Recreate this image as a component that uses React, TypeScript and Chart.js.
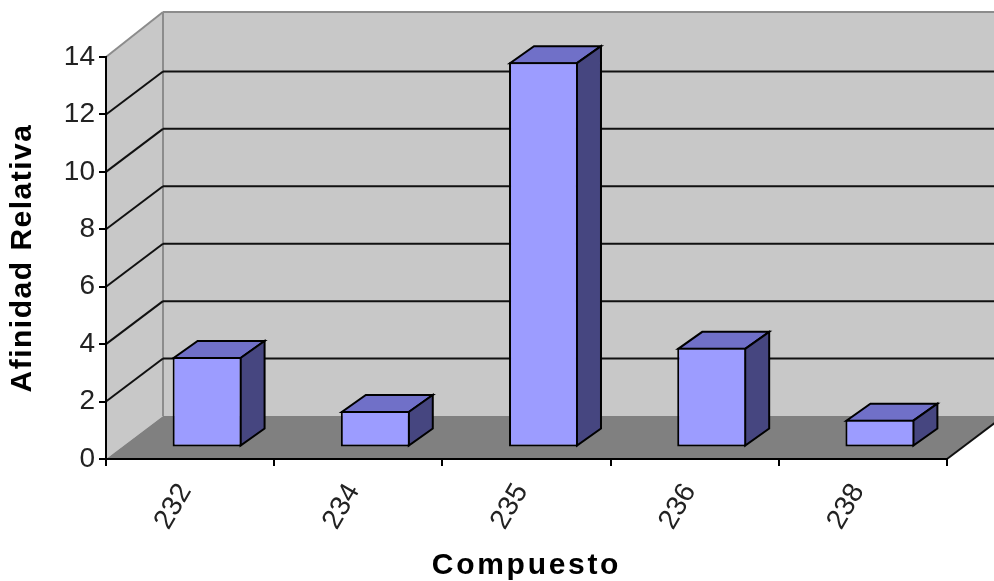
import React, { useEffect, useRef } from "react";
import { Chart, registerables } from "chart.js";

Chart.register(...registerables);

const categories = ["232", "234", "235", "236", "238"];
const afinidad = [3.15, 1.27, 13.42, 3.47, 0.97];
const yTicks = [0, 2, 4, 6, 8, 10, 12, 14];
const yTitle = "Afinidad Relativa";
const xTitle = "Compuesto";

const WALL_DX = 57;
const WALL_DY = 43;
const WALL_TOP_DY = 45;
const BAR_SHIFT_X = 17;
const BAR_SHIFT_Y = 11.5;
const BAR_DX = 24;
const BAR_DY = 17;

function poly(ctx: CanvasRenderingContext2D, pts: number[][], fill?: string, stroke?: string, lw = 2) {
  ctx.beginPath();
  pts.forEach((p, i) => (i ? ctx.lineTo(p[0], p[1]) : ctx.moveTo(p[0], p[1])));
  ctx.closePath();
  if (fill) {
    ctx.fillStyle = fill;
    ctx.fill();
  }
  if (stroke) {
    ctx.strokeStyle = stroke;
    ctx.lineWidth = lw;
    ctx.lineJoin = "miter";
    ctx.stroke();
  }
}

function line(ctx: CanvasRenderingContext2D, a: number[], b: number[], color: string, lw = 2) {
  ctx.beginPath();
  ctx.moveTo(a[0], a[1]);
  ctx.lineTo(b[0], b[1]);
  ctx.strokeStyle = color;
  ctx.lineWidth = lw;
  ctx.stroke();
}

function spaceTitle(scale: any, spacing: string) {
  if (scale.__spaced) return;
  scale.__spaced = true;
  const orig = scale.drawTitle.bind(scale);
  scale.drawTitle = () => {
    const c = scale.ctx;
    c.letterSpacing = spacing;
    orig();
    c.letterSpacing = "0px";
  };
}

const walls3d = {
  id: "walls3d",
  beforeDraw(chart: any) {
    const { ctx, chartArea: ca, scales } = chart;
    const y = scales.y;
    spaceTitle(scales.x, "2.7px");
    spaceTitle(scales.y, "1.5px");
    const y0 = y.getPixelForValue(0);
    const yT = y.getPixelForValue(14);
    const L = ca.left;
    const R = ca.right;
    ctx.save();
    poly(ctx, [[L + WALL_DX, yT - WALL_TOP_DY], [R + WALL_DX, yT - WALL_TOP_DY], [R + WALL_DX, y0 - WALL_DY], [L + WALL_DX, y0 - WALL_DY]], "#c8c8c8");
    poly(ctx, [[L, y0], [L + WALL_DX, y0 - WALL_DY], [L + WALL_DX, yT - WALL_TOP_DY], [L, yT]], "#c8c8c8");
    poly(ctx, [[L, y0], [R, y0], [R + WALL_DX, y0 - WALL_DY], [L + WALL_DX, y0 - WALL_DY]], "#808080");
    line(ctx, [L, yT], [L + WALL_DX, yT - WALL_TOP_DY], "#8c8c8c");
    line(ctx, [L + WALL_DX, yT - WALL_TOP_DY], [R + WALL_DX, yT - WALL_TOP_DY], "#8c8c8c");
    line(ctx, [L + WALL_DX, yT - WALL_TOP_DY], [L + WALL_DX, y0 - WALL_DY], "#8c8c8c");
    for (const v of yTicks) {
      if (v === 0 || v === 14) continue;
      const py = y.getPixelForValue(v);
      line(ctx, [L, py], [L + WALL_DX, py - WALL_DY], "#111", 2);
      line(ctx, [L + WALL_DX, py - WALL_DY], [R + WALL_DX, py - WALL_DY], "#111", 2);
    }
    line(ctx, [R, y0], [R + WALL_DX, y0 - WALL_DY], "#111", 2);
    ctx.restore();
  },
  beforeDatasetDraw(chart: any, args: any) {
    const { ctx } = chart;
    const meta = chart.getDatasetMeta(args.index);
    ctx.save();
    ctx.translate(BAR_SHIFT_X, -BAR_SHIFT_Y);
    meta.data.forEach((el: any) => {
      const l = el.x - el.width / 2 + 1;
      const r = el.x + el.width / 2 - 1;
      const t = el.y + 1;
      const b = el.base - 1;
      poly(ctx, [[l, t], [r, t], [r + BAR_DX, t - BAR_DY], [l + BAR_DX, t - BAR_DY]], "#7070c8", "#000", 2);
      poly(ctx, [[r, t], [r + BAR_DX, t - BAR_DY], [r + BAR_DX, b - BAR_DY], [r, b]], "#464680", "#000", 2);
    });
  },
  afterDatasetDraw(chart: any) {
    chart.ctx.restore();
  },
};

export default function App() {
  const ref = useRef<HTMLCanvasElement>(null);
  useEffect(() => {
    const tickFont = { family: "'Liberation Sans', Arial, sans-serif", size: 28 };
    const titleFont = { family: "'Liberation Sans', Arial, sans-serif", size: 30, weight: "bold" as const };
    const chart = new Chart(ref.current!, {
      type: "bar",
      data: {
        labels: categories,
        datasets: [
          {
            data: afinidad,
            backgroundColor: "#9c9cff",
            borderColor: "#000",
            borderWidth: 2,
            borderSkipped: false,
            barPercentage: 0.41,
            categoryPercentage: 1,
            clip: false,
          } as any,
        ],
      },
      options: {
        animation: false,
        responsive: false,
        layout: { padding: { top: 57, right: 47, left: 0, bottom: 0 } },
        plugins: { legend: { display: false }, tooltip: { enabled: false } },
        scales: {
          x: {
            afterFit(s: any) {
              s.height = 122;
            },
            border: { color: "#000", width: 2 },
            grid: { drawOnChartArea: false, drawTicks: true, tickLength: 7, color: "#000", lineWidth: 2, offset: true },
            ticks: { color: "#222", font: tickFont, minRotation: 60, maxRotation: 60, padding: 12, labelOffset: -5 },
            title: { display: true, text: xTitle, color: "#000", font: titleFont, padding: { top: 0, bottom: -3 } },
          },
          y: {
            min: 0,
            max: 14,
            afterFit(s: any) {
              s.width = 106;
            },
            afterBuildTicks(s: any) {
              s.ticks = yTicks.map((value) => ({ value }));
            },
            border: { color: "#000", width: 2 },
            grid: { drawOnChartArea: false, drawTicks: true, tickLength: 7, color: "#000", lineWidth: 2 },
            ticks: { color: "#222", font: tickFont, padding: 4 },
            title: { display: true, text: yTitle, color: "#000", font: titleFont, padding: { top: 5, bottom: 0 } },
          },
        },
      },
      plugins: [walls3d],
    } as any);
    return () => chart.destroy();
  }, []);
  return (
    <div style={{ position: "fixed", left: 0, top: 0, width: 994, height: 581, background: "#fff" }}>
      <canvas ref={ref} width={994} height={581} style={{ display: "block", filter: "blur(0.5px)" }} />
    </div>
  );
}
